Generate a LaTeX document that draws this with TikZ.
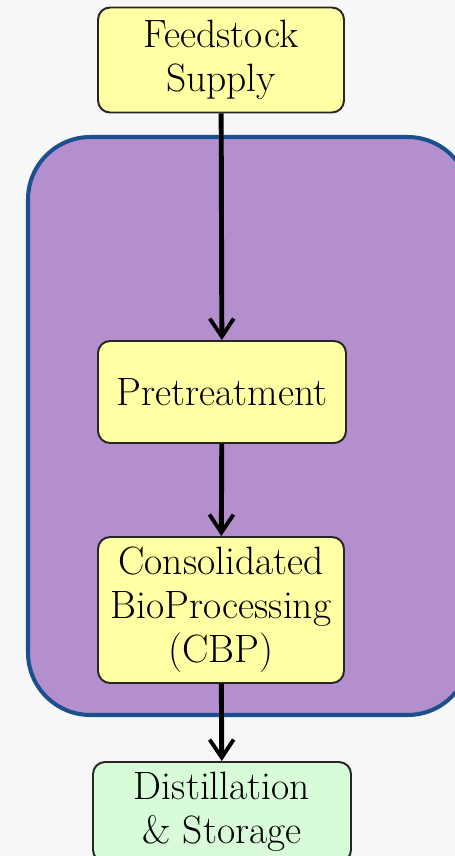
\documentclass[tikz,border=0pt]{standalone}
\usepackage{xcolor}
\usepackage{tikz}
\usetikzlibrary{arrows.meta}

\definecolor{stageyellow}{HTML}{FFFFA4}
\definecolor{stagegreen}{HTML}{D8FCD8}
\definecolor{cbpviolet}{HTML}{B38FCD}
\definecolor{cbpblue}{HTML}{1C4F8D}
\definecolor{pagegray}{HTML}{F7F7F7}

\begin{document}
\begin{tikzpicture}[x=0.02cm, y=-0.02cm,
    stage/.style={draw=black!85, line width=1.1pt, rounded corners=0.24cm,
        fill=stageyellow, align=center, inner sep=0pt,
        font=\fontsize{22.5}{25}\selectfont},
    flow/.style={line width=2.8pt,
        -{Straight Barb[length=0.36cm, width=0.48cm, line width=2.2pt]}}]

    \fill[pagegray] (0,0) rectangle (455,856);
    \useasboundingbox (0,0) rectangle (455,856);

    \draw[cbpblue, line width=2.3pt, fill=cbpviolet, rounded corners=1.25cm]
        (28,137) rectangle (470,715);

    \node[stage, minimum width=4.92cm, minimum height=2.1cm] (feed) at (221,60)
        {Feedstock\\Supply};
    \node[stage, minimum width=4.96cm, minimum height=2.04cm] (pre) at (222,392)
        {Pretreatment};
    \node[stage, minimum width=4.92cm, minimum height=2.92cm] (cbp) at (221,610)
        {Consolidated\\BioProcessing\\(CBP)};
    \node[stage, fill=stagegreen, minimum width=5.16cm, minimum height=2.0cm] (dist) at (222,812)
        {Distillation\\\& Storage};

    \foreach \a/\b in {feed/pre, pre/cbp, cbp/dist}
        \draw[flow] (\a) -- (\b);
\end{tikzpicture}
\end{document}
